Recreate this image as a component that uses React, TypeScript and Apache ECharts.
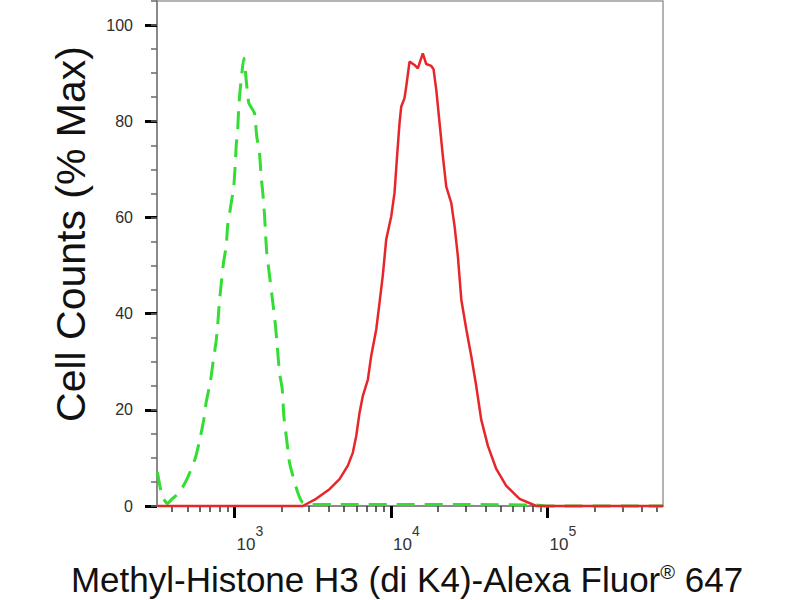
import React, { useEffect, useRef } from "react";
import * as echarts from "echarts";

// Fluorescence intensity (x) and % of max counts (y)
const greenIntensity = [322, 345, 373, 400, 446, 504, 564, 598, 637, 659, 703, 727, 764, 782, 802, 822, 851, 885, 906, 943, 990, 1010, 1025, 1050, 1065, 1087, 1147, 1188, 1234, 1342, 1388, 1445, 1481, 1517, 1555, 1578, 1608, 1656, 1758, 1829, 1875, 1940, 2019, 2067, 2140, 2245, 2360, 2537, 2708, 3000, 5000, 10000, 30000, 84700, 100000, 546000];
const greenCounts = [7, 2, 0.5, 1.5, 2.8, 6, 10.1, 13.5, 18, 21.5, 26, 29.5, 34.3, 37.8, 42.6, 46, 50.6, 54, 58.5, 62, 66.5, 70.6, 74.8, 78.6, 83, 86.5, 93.1, 88.6, 83.8, 81.7, 76.8, 73.4, 68.5, 65.1, 60.6, 56.8, 52.7, 49.2, 42.3, 37.4, 33.3, 27.7, 24.3, 18.7, 14.6, 9.1, 6.3, 2.8, 0.8, 0.3, 0.3, 0.3, 0.3, 0.2, 0, 0];

const redIntensity = [322, 1000, 2729, 3324, 4045, 4688, 5299, 5704, 5998, 6295, 6607, 7114, 7471, 8044, 8445, 8866, 9314, 10028, 10525, 10890, 11330, 11612, 12194, 12503, 13130, 14125, 14830, 15958, 16780, 18064, 18698, 19460, 20423, 21439, 22525, 24259, 25461, 26734, 27415, 28116, 30269, 32538, 34998, 37650, 41567, 47008, 54450, 66220, 84700, 200000, 546000];
const redCounts = [0, 0, 0, 1.5, 3.5, 5.6, 8.4, 11.1, 14.6, 19.4, 22.9, 26.3, 31.2, 36.7, 42.3, 48, 55.4, 60.2, 65.1, 72, 79.6, 83, 84.8, 87.2, 92.4, 91.7, 91, 94.1, 91.9, 91.5, 90.8, 86.5, 79.6, 72.7, 66.4, 63, 58.2, 51.9, 47.4, 42.9, 36.7, 31.2, 25, 18, 12.5, 7.7, 4.2, 1.5, 0, 0, 0];

const xMinIntensity = 320;
const xMaxIntensity = 546000;
const xMajorTicks = [1000, 10000, 100000];
const xMinorTicks = [400, 500, 600, 700, 800, 900, 2000, 3000, 4000, 5000, 6000, 7000, 8000, 9000, 20000, 30000, 40000, 50000, 60000, 70000, 80000, 90000, 200000, 300000, 400000, 500000];

const yMax = 105;
const yMajorStep = 20;
const yMinorStep = 5;

const xTitle = "Methyl-Histone H3 (di K4)-Alexa Fluor{r|®} 647";
const yTitle = "Cell Counts (% Max)";

const FONT = '"Liberation Sans", Arial, sans-serif';

export default function App() {
  const ref = useRef<HTMLDivElement>(null);
  useEffect(() => {
    document.body.style.margin = "0";
    if (!ref.current) return;
    const chart = echarts.init(ref.current, null, { renderer: "svg" });
    const lg = (v: number) => Math.log10(v);
    const xMin = lg(xMinIntensity);
    const xMax = lg(xMaxIntensity);

    const option: any = {
      animation: false,
      backgroundColor: "#ffffff",
      grid: {
        left: 157,
        right: 137,
        top: 1,
        bottom: 94,
        show: true,
        borderColor: "#9a9a9a",
        borderWidth: 1.5,
        outerBoundsMode: "none",
        containLabel: false,
      },
      xAxis: [
        {
          type: "value",
          position: "bottom",
          offset: 0,
          min: xMin,
          max: xMax,
          splitLine: { show: false },
          axisLine: { show: true, onZero: false, lineStyle: { color: "#8a8a8a", width: 2 } },
          axisTick: {
            show: true,
            customValues: xMajorTicks.map(lg),
            length: 12,
            lineStyle: { color: "black", width: 3 },
          },
          axisLabel: {
            show: true,
            customValues: xMajorTicks.map(lg),
            align: "left",
            margin: 18,
            formatter: (v: number) => `{b|10}{s|${Math.round(v)}}`,
            rich: {
              b: { fontSize: 17, fontFamily: FONT, color: "#333", verticalAlign: "bottom", padding: [0, 0, 0, 2] },
              s: { fontSize: 14, fontFamily: FONT, color: "#333", verticalAlign: "bottom", padding: [0, 0, 15, 0] },
            },
          },
        },
        {
          type: "value",
          position: "bottom",
          offset: 0,
          min: xMin,
          max: xMax,
          splitLine: { show: false },
          axisLine: { show: true, onZero: false, lineStyle: { color: "rgba(0,0,0,0)" } },
          axisTick: {
            show: true,
            customValues: xMinorTicks.map(lg),
            length: 6,
            lineStyle: { color: "#333", width: 1.5 },
          },
          axisLabel: { show: false },
        },
      ],
      yAxis: [
        {
          type: "value",
          position: "left",
          offset: 0,
          min: 0,
          max: yMax,
          interval: yMajorStep,
          splitLine: { show: false },
          axisLine: { show: true, onZero: false, lineStyle: { color: "#8a8a8a", width: 2 } },
          axisTick: {
            show: true,
            length: 12,
            lineStyle: { color: "black", width: 3 },
          },
          axisLabel: {
            show: true,
            showMaxLabel: false,
            margin: 24,
            fontSize: 16,
            fontFamily: FONT,
            color: "#2e2e2e",
            formatter: (v: number) => (v % yMajorStep === 0 ? String(v) : ""),
          },
        },
        {
          type: "value",
          position: "left",
          offset: 0,
          min: 0,
          max: yMax,
          interval: yMinorStep,
          splitLine: { show: false },
          axisLine: { show: true, onZero: false, lineStyle: { color: "rgba(0,0,0,0)" } },
          axisTick: {
            show: true,
            length: 6,
            lineStyle: { color: "dimgray", width: 1.5 },
          },
          axisLabel: { show: false },
        },
      ],
      series: [
        {
          name: "Control",
          type: "line",
          xAxisIndex: 0,
          yAxisIndex: 0,
          data: greenIntensity.map((v, i) => [lg(v), greenCounts[i]]),
          symbol: "none",
          showSymbol: false,
          clip: false,
          smooth: 0.15,
          lineStyle: { color: "#33dd33", width: 3, type: [18, 10] },
          z: 3,
        },
        {
          name: "Methyl-Histone H3 (di K4)",
          type: "line",
          xAxisIndex: 0,
          yAxisIndex: 0,
          data: redIntensity.map((v, i) => [lg(v), redCounts[i]]),
          symbol: "none",
          showSymbol: false,
          clip: false,
          lineStyle: { color: "#e8262a", width: 2.5 },
          z: 4,
        },
      ],
      graphic: [
        {
          type: "text",
          x: 407,
          y: 579,
          style: {
            text: xTitle,
            fontSize: 35,
            fontFamily: FONT,
            fill: "#111",
            align: "center",
            verticalAlign: "middle",
            rich: {
              r: { fontSize: 20, fontFamily: FONT, fill: "#111", padding: [0, 0, 14, 0] },
            },
          },
        },
        {
          type: "text",
          x: 71,
          y: 234,
          rotation: Math.PI / 2,
          style: {
            text: yTitle,
            fontSize: 41,
            fontFamily: FONT,
            fill: "#111",
            align: "center",
            verticalAlign: "middle",
          },
        },
      ],
    };
    chart.setOption(option);
    return () => chart.dispose();
  }, []);
  return <div ref={ref} style={{ width: 800, height: 600 }} />;
}
